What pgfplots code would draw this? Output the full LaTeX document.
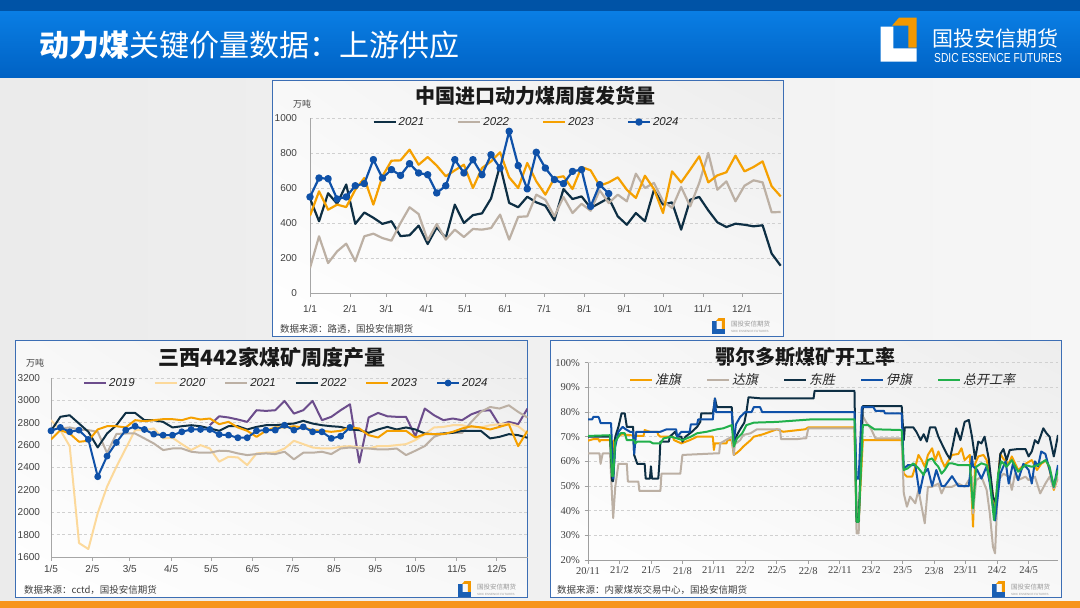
\documentclass[border=0pt]{standalone}
\usepackage{fontspec}
\setmainfont{Liberation Sans}
\newfontfamily\cjk{Noto Sans CJK SC}
\newfontfamily\cjkit[FakeSlant=0.2]{Noto Sans CJK SC}
\newfontfamily\serif{Liberation Serif}
\usepackage{pgfplots}
\pgfplotsset{compat=1.18}
\usepackage{pgfplotstable}
\usetikzlibrary{shadings}

\definecolor{hdrdark}{HTML}{0053A6}
\definecolor{hdrtop}{HTML}{0A7EE4}
\definecolor{hdrbot}{HTML}{0062C4}
\definecolor{bgl}{HTML}{EBEBEB}
\definecolor{bgr}{HTML}{F6F6F6}
\definecolor{stripe}{HTML}{F7941D}
\definecolor{boxblue}{HTML}{3C6EB4}
\definecolor{cnavy}{HTML}{0E2F44}
\definecolor{cbeige}{HTML}{BCB0A4}
\definecolor{corange}{HTML}{F5A000}
\definecolor{cblue}{HTML}{0F51A8}
\definecolor{cpurple}{HTML}{6C4D8C}
\definecolor{cpeach}{HTML}{FCD99B}
\definecolor{cgreen}{HTML}{21B04B}
\definecolor{ticktext}{HTML}{404040}
\definecolor{axisgray}{HTML}{A6A6A6}
\definecolor{gridgray}{HTML}{D0D0D0}
\definecolor{logoblue}{HTML}{1A5FB4}
\definecolor{logoorange}{HTML}{F39800}
\definecolor{panelgray}{HTML}{EDEDED}
\definecolor{panelmid}{HTML}{F8F8F8}

% weekly shipments, day of year
\pgfplotstableread{
day y21 y22 y23 y24
0 540 143 442 549
7 410 324 581 657
14 570 171 476 653
21 510 238 505 537
28 620 282 491 549
35 395 181 590 613
42 460 324 657 625
49 430 339 505 762
56 395 314 667 657
63 410 299 756 705
70 325 400 758 672
77 330 490 819 739
84 385 451 733 686
91 280 301 777 676
98 375 394 728 572
105 315 305 667 613
112 505 362 701 762
119 400 320 733 686
126 445 366 600 762
133 455 362 714 676
140 540 371 752 790
147 730 448 804 714
154 515 305 661 924
161 490 435 600 728
168 550 438 743 595
175 518 562 638 804
182 499 533 562 714
189 415 438 657 648
196 594 549 667 625
203 537 457 594 695
210 552 510 720 705
217 486 470 701 495
224 514 587 613 619
231 543 514 632 568
238 438 562 661 nan
245 390 524 590 nan
252 457 682 543 nan
259 410 600 670 nan
266 590 629 594 nan
273 505 524 457 nan
280 518 486 695 nan
287 362 606 632 nan
294 533 495 705 nan
301 549 629 781 nan
308 472 800 632 nan
315 404 590 672 nan
322 377 638 690 nan
329 396 524 785 nan
336 390 613 695 nan
343 381 644 720 nan
350 387 632 752 nan
357 225 461 610 nan
364 156 463 552 nan
}\shipping

% weekly output, day of year
\pgfplotstableread{
day y19 y20 y21 y22 y23 y24
4 nan 2823 2740 2728 2651 2728
11 nan 2734 2749 2853 2734 2758
18 nan 2591 2758 2867 2704 2719
25 nan 1725 2740 2793 2630 2734
32 nan 1671 2734 2719 2639 2651
39 nan 1992 2719 2579 2740 2318
46 nan 2229 2530 2704 2769 2502
53 nan 2407 2700 2778 2769 2624
60 nan 2570 2704 2888 2758 2734
67 nan 2734 2704 2888 2823 2769
74 nan 2734 2660 2823 2814 2740
81 nan 2749 2615 2823 2823 2698
88 nan 2660 2556 2808 2832 2689
95 nan 2666 2570 2758 2832 2689
102 nan 2609 2570 2769 2823 2719
109 nan 2556 2541 2778 2847 2740
116 nan 2600 2532 2769 2829 2740
123 2778 2570 2532 2749 2838 2740
130 2858 2452 2550 2728 2787 2695
137 2847 2496 2547 2769 2808 2689
144 2829 2490 2526 2769 2758 2666
151 2808 2422 2511 2740 2728 2666
158 2912 2526 2520 2763 2674 2728
165 2906 2532 2526 2778 2728 2734
172 2912 2535 2520 2778 2758 2734
179 2995 2570 2541 2787 2758 2778
186 2882 2639 2473 2793 2769 2734
193 2912 2609 2532 2817 2758 2763
200 2995 2579 2532 2793 2734 2719
207 2823 2570 2541 2778 2728 2719
214 2853 2570 2520 2769 2719 2660
221 2912 2585 2570 2763 2728 2680
228 2965 2591 2579 2740 2758 2758
235 2443 2579 2570 2734 2749 nan
242 2847 2570 2570 2710 2689 nan
249 2888 2591 2562 2740 2668 nan
256 2858 2591 2562 2763 2728 nan
263 2853 2600 2570 2740 2728 nan
270 2853 2609 2511 2758 2728 nan
277 2680 2645 2550 2740 2668 nan
284 2927 2698 2591 2704 2698 nan
291 2867 2758 2674 2698 2698 nan
298 2823 2763 2704 2704 2698 nan
305 2838 2778 2710 2710 2719 nan
312 2823 2778 2710 2728 2749 nan
319 2876 2758 2808 2728 2769 nan
326 2906 2758 2897 2728 2758 nan
333 2912 2778 2941 2660 2740 nan
340 2778 2787 2927 2674 2763 nan
347 2808 2793 2956 2698 2787 nan
354 2787 2769 2897 2689 2591 nan
361 2927 2704 2847 2666 2728 nan
}\sanxi

\pgfplotsset{
  panel/.style={
    scale only axis, anchor=south west,
    axis x line*=bottom, axis y line*=left,
    axis line style={draw=axisgray, line width=0.8pt},
    ymajorgrids, grid style={draw=gridgray, line width=0.6pt, dash pattern=on 3pt off 2.5pt},
    tick align=outside, major tick length=3.5pt,
    xtick style={draw=axisgray, line width=0.8pt},
    ytick style={draw=none},
    tick label style={text=ticktext, font=\fontsize{10}{12}\selectfont},
    unbounded coords=jump,
    legend columns=-1,
    legend cell align=left,
    legend style={draw=none, fill=none, inner sep=0pt, anchor=west, text=black!85,
      font=\itshape\fontsize{11.5}{12}\selectfont},
    legend image code/.code={\draw[mark repeat=2,mark phase=2,##1] plot coordinates {(0pt,0pt) (11pt,0pt) (22pt,0pt)};},
    every axis plot/.append style={line join=round},
  }
}

\newcommand{\logomark}[1]{%
  \fill[logoorange] (11.3,-8) -- (18.3,0) -- (36,0) -- (36,-30) -- (27.6,-30) -- (27.6,-8) -- cycle;
  \fill[#1] (0,-9) -- (12.6,-9) -- (12.6,-30.6) -- (36,-30.6) -- (36,-44) -- (0,-44) -- cycle;}
\newcommand{\minilogo}[2]{%
  \begin{scope}[shift={(#1,-#2)}]
    \begin{scope}[scale=0.36]\logomark{logoblue}\end{scope}
    \node[anchor=west, inner sep=0, font=\cjk\fontsize{6.5}{7}\selectfont, text=gray!80] at (19,-6) {国投安信期货};
    \node[anchor=west, inner sep=0, font=\fontsize{3}{3}\selectfont, text=gray!80] at (19,-13) {SDIC ESSENCE FUTURES};
  \end{scope}}

\begin{document}
\begin{tikzpicture}[x=1pt,y=1pt]
\useasboundingbox (0,0) rectangle (1080,-608);
\shade[left color=bgl, right color=bgr] (0,-76) rectangle (1080,-601);
\fill[stripe] (0,-601) rectangle (1080,-608);
\shade[top color=hdrtop, bottom color=hdrbot] (0,-11) rectangle (1080,-77);
\fill[hdrdark] (0,0) rectangle (1080,-11);
\node[anchor=west, inner sep=0, text=white, font=\cjk\fontsize{30}{30}\selectfont] at (39,-45) {{\bfseries 动力煤}关键价量数据：上游供应};
\begin{scope}[shift={(880.7,-17.7)}]\logomark{white}\end{scope}
\node[anchor=west, inner sep=0, text=white, font=\cjk\fontsize{21}{21}\selectfont] at (932,-39) {国投安信期货};
\node[anchor=west, inner sep=0, text=white, font=\fontsize{13}{13}\selectfont] at (934,-58) {\scalebox{0.79}[1]{SDIC ESSENCE FUTURES}};

\foreach \a/\b/\c/\d in {272/80/783/336, 15/340/527/597, 550/340/1061/597} {
  \shade[upper right=panelgray, lower left=white, upper left=panelmid, lower right=panelmid] (\a,-\b) rectangle (\c,-\d);
  \draw[boxblue, line width=1pt] (\a,-\b) rectangle (\c,-\d);
}

% ---------- chart 1 ----------
\node[font=\cjk\bfseries\fontsize{20}{20}\selectfont, text=black!90] at (535,-96) {中国进口动力煤周度发货量};
\node[font=\cjk\fontsize{9}{9}\selectfont, text=ticktext] at (302,-104) {万吨};
\node[anchor=west, font=\cjk\fontsize{9.5}{10}\selectfont, text=ticktext, inner sep=0] at (280,-329) {数据来源：路透，国投安信期货};
\minilogo{712}{318}
\begin{axis}[panel,
  at={(310pt,-293pt)}, width=472pt, height=175pt,
  xmin=0, xmax=365, ymin=0, ymax=1000,
  xtick={0,31,59,90,120,151,181,212,243,273,304,334},
  xticklabels={1/1,2/1,3/1,4/1,5/1,6/1,7/1,8/1,9/1,10/1,11/1,12/1},
  ytick={0,200,400,600,800,1000},
  yticklabels={0,200,400,600,800,1000},
  xticklabel style={yshift=-5pt},
  yticklabel style={xshift=-6pt},
  legend style={at={(0.132,0.977)}, /tikz/every even column/.append style={column sep=31pt}},
]
\addplot[cnavy, line width=2.2pt] table[x=day, y=y21] {\shipping};
\addlegendentry{2021}
\addplot[cbeige, line width=2.2pt] table[x=day, y=y22] {\shipping};
\addlegendentry{2022}
\addplot[corange, line width=2.2pt] table[x=day, y=y23] {\shipping};
\addlegendentry{2023}
\addplot[cblue, line width=2.2pt, mark=*, mark size=2.6pt, mark options={solid, fill=cblue}] table[x=day, y=y24] {\shipping};
\addlegendentry{2024}
\end{axis}

% ---------- chart 2 ----------
\node[font=\cjk\bfseries\fontsize{21}{21}\selectfont, text=black!90] at (272,-358) {三西442家煤矿周度产量};
\node[font=\cjk\fontsize{9}{9}\selectfont, text=ticktext] at (35,-363) {万吨};
\node[anchor=west, font=\cjk\fontsize{9.5}{10}\selectfont, text=ticktext, inner sep=0] at (24,-590) {数据来源：cctd，国投安信期货};
\minilogo{458}{581}
\begin{axis}[panel,
  at={(51pt,-557pt)}, width=476.5pt, height=179pt,
  xmin=4, xmax=361, ymin=1600, ymax=3200,
  xtick={4,35,63,94,124,155,185,216,247,277,308,338},
  xticklabels={1/5,2/5,3/5,4/5,5/5,6/5,7/5,8/5,9/5,10/5,11/5,12/5},
  ytick={1600,1800,2000,2200,2400,2600,2800,3000,3200},
  yticklabels={1600,1800,2000,2200,2400,2600,2800,3000,3200},
  xticklabel style={yshift=-1pt},
  yticklabel style={xshift=-4pt},
  legend style={at={(0.067,0.972)}, /tikz/every even column/.append style={column sep=17pt}},
]
\addplot[cpurple, line width=2pt] table[x=day, y=y19] {\sanxi};
\addlegendentry{2019}
\addplot[cpeach, line width=2pt] table[x=day, y=y20] {\sanxi};
\addlegendentry{2020}
\addplot[cbeige, line width=2pt] table[x=day, y=y21] {\sanxi};
\addlegendentry{2021}
\addplot[cnavy, line width=2pt] table[x=day, y=y22] {\sanxi};
\addlegendentry{2022}
\addplot[corange, line width=2pt] table[x=day, y=y23] {\sanxi};
\addlegendentry{2023}
\addplot[cblue, line width=2pt, mark=*, mark size=2.4pt, mark options={solid, fill=cblue}] table[x=day, y=y24] {\sanxi};
\addlegendentry{2024}
\end{axis}

% ---------- chart 3 ----------
\node[font=\cjk\bfseries\fontsize{20}{20}\selectfont, text=black!90] at (805,-357) {鄂尔多斯煤矿开工率};
\node[anchor=west, font=\cjk\fontsize{9.5}{10}\selectfont, text=ticktext, inner sep=0] at (557,-590) {数据来源：内蒙煤炭交易中心，国投安信期货};
\minilogo{992}{581}
\begin{axis}[panel,
  at={(588pt,-560pt)}, width=470pt, height=197.3pt,
  xmin=0, xmax=44.8, ymin=20, ymax=100,
  axis line style={draw=gray!75, line width=0.8pt},
  xtick style={draw=gray!75, line width=0.8pt},
  ytick style={draw=gray!75, line width=0.8pt},
  tick label style={font=\serif\fontsize{10.5}{12}\selectfont},
  xtick={0,3,...,42},
  xticklabels={20/11,21/2,21/5,21/8,21/11,22/2,22/5,22/8,22/11,23/2,23/5,23/8,23/11,24/2,24/5},
  ytick={20,30,...,100},
  yticklabels={20\%,30\%,40\%,50\%,60\%,70\%,80\%,90\%,100\%},
  yticklabel style={xshift=-1pt},
  legend style={at={(0.087,0.912)}, font=\cjkit\fontsize{13}{13}\selectfont, /tikz/every even column/.append style={column sep=23pt}},
]
\addplot[corange, line width=2pt] coordinates {
(0,68.4)(0.5,69)(1.0,69)(1.1,68)(1.2,68.6)(2.1,68.6)(2.3,60)(2.5,68.6)(2.9,70)(3.2,71)(4.7,70.3)(5.3,70.3)(5.4,72.7)(5.9,72)(6.6,72)(6.7,70.7)(6.9,70)(8.1,70)(8.2,68.6)(8.9,67.3)(9.7,68.6)(10.4,70)(11.9,70)(12.0,64.6)(12.1,67.3)(13.2,67.3)(13.3,68.6)(13.7,68.6)(13.9,62.6)(14.2,63.5)(14.5,64.6)(14.8,66)(15.5,68.6)(15.8,70)(16.7,71)(18.0,73)(18.6,72)(20.7,73)(21.0,73.8)(25.4,73.8)(25.6,35.5)(25.8,35.5)(26.2,68.6)(29.9,68.6)(30.1,55)(30.4,53.8)(30.9,53.8)(31.2,57.8)(31.5,62.6)(31.8,60.5)(32.1,57.8)(32.4,62.6)(32.8,65.3)(33.1,60.5)(33.4,64)(33.7,60.5)(34.0,57.8)(34.4,60.5)(34.7,62.6)(35.3,63)(35.6,65.3)(35.9,60.5)(36.4,62.6)(36.7,33.5)(36.9,59)(37.2,62)(37.7,62.6)(38.0,60.5)(38.3,55)(38.8,40.3)(39.3,63)(39.6,61)(40.1,59)(40.4,62)(41.0,56.5)(41.7,59)(42.3,60.5)(42.8,56.5)(43.2,59)(43.7,60.5)(44.0,56.5)(44.4,48.4)(44.7,52.4)(44.8,52.4)};
\addlegendentry{准旗}
\addplot[cbeige, line width=2pt] coordinates {
(0,63.2)(1.1,63.2)(1.2,59)(1.4,63.2)(2.1,63.2)(2.3,45)(2.4,37)(2.6,49.7)(2.9,59)(3.7,59)(3.8,51.8)(4.8,51.8)(4.9,48)(6.9,48)(7.0,55)(8.8,55)(9.0,62.6)(12.0,63.2)(12.5,63.2)(12.6,67.3)(13.7,70)(13.9,62.6)(14.0,67)(14.5,68.6)(14.8,70.7)(15.5,71.4)(16.1,73)(18.3,73)(18.4,69)(19.9,69)(20.5,69.3)(20.8,69.3)(21.0,73.4)(25.4,73.4)(25.6,30.8)(25.8,30.8)(26.1,79)(26.5,76)(27.0,73)(27.4,69.3)(29.9,69.3)(30.1,47)(30.4,41.6)(30.7,45.7)(31.2,43)(31.5,48.4)(31.8,41.6)(32.1,34.9)(32.4,49.7)(32.8,49.7)(33.4,51)(33.7,47)(34.0,49.7)(34.7,49.7)(35.3,51)(35.9,49.7)(36.3,52.4)(36.6,53.8)(36.7,38.9)(37.0,52.4)(37.5,53.8)(38.0,48.4)(38.3,38.9)(38.6,25.4)(38.8,22.7)(39.1,52.4)(39.6,55)(40.1,53.8)(40.4,48.4)(40.7,55)(41.0,52.4)(41.7,53.8)(42.0,52.4)(42.6,53.8)(43.1,47)(43.6,51)(44.0,53.8)(44.4,49)(44.7,52.4)(44.8,53.8)};
\addlegendentry{达旗}
\addplot[cnavy, line width=2pt] coordinates {
(0,70)(2.1,70)(2.3,52)(2.4,52)(2.6,70)(2.9,74)(3.2,79.5)(3.5,79.5)(3.7,74)(4.3,74)(4.4,62.6)(4.7,59)(5.4,59)(5.5,53)(5.9,53)(6.0,58)(6.1,53)(6.7,53)(6.8,59)(6.9,68)(7.7,68)(7.8,70)(8.3,72)(8.5,70)(8.9,70)(9.0,68)(9.3,70)(9.9,72)(10.4,74)(10.7,76)(10.8,79.5)(11.9,79.5)(12.0,82)(12.1,85.5)(12.2,83.5)(12.3,82)(13.7,82)(13.9,67.3)(14.2,70.7)(14.5,73)(14.9,75.7)(15.1,80)(15.3,86)(16.6,85.5)(21.5,85.5)(21.6,88.6)(25.4,88.6)(25.6,35.5)(25.8,35.5)(26.2,82.4)(29.9,82.4)(30.1,68.6)(30.2,73.8)(31.0,73.8)(31.3,72)(31.7,68.6)(32.0,71)(32.3,68)(32.6,73.8)(33.1,73.8)(33.4,70)(33.7,67.3)(34.2,63)(34.5,61)(34.8,67)(35.1,73.4)(35.5,68.6)(35.9,76)(36.3,76.8)(36.6,70)(36.9,61)(37.2,68)(37.5,67.3)(37.8,70)(38.2,61)(38.6,45.7)(38.9,43)(39.3,63)(39.6,65)(39.9,60.5)(40.2,64.6)(41.0,65)(41.7,65)(42.0,62)(42.3,64)(42.6,68.6)(42.9,67.3)(43.4,73.4)(43.7,71.4)(44.0,70)(44.4,62)(44.5,64)(44.8,70.7)};
\addlegendentry{东胜}
\addplot[cblue, line width=2pt] coordinates {
(0,77)(0.4,77)(0.5,78)(1.0,78)(1.1,77)(1.2,75.5)(2.2,75.5)(2.4,53)(2.6,66)(2.9,72)(3.3,74)(3.6,73)(4.0,72)(4.3,72)(4.4,63)(4.6,72)(6.9,72)(7.2,72.5)(7.5,73)(8.4,73)(8.5,70)(8.9,72)(9.7,72)(9.8,75)(10.4,75)(10.5,77)(11.9,77)(12.0,82)(12.1,85.5)(12.2,80)(13.7,80)(13.9,68)(14.1,75)(14.5,78)(15.0,80)(15.6,80)(15.8,82)(16.4,82)(16.6,80)(25.4,80)(25.6,53)(25.8,53)(26.1,82)(27.2,82)(27.4,80.5)(28.2,80.5)(28.3,79.5)(29.9,79.5)(30.1,57)(30.5,58.5)(31.2,58.5)(31.6,47)(32.0,55)(32.4,57)(32.8,50)(33.2,56.5)(33.7,50)(34.0,50)(34.7,54)(35.3,50)(36.3,50)(36.6,62)(36.7,58)(37.1,56.5)(37.5,53)(38.0,58)(38.3,51)(38.8,36)(39.3,55)(39.8,60)(40.1,51)(40.5,59)(41.0,52.4)(41.5,59)(42.0,56.5)(42.3,51)(42.6,60)(42.9,58)(43.2,64)(43.6,63)(44.0,56.5)(44.4,49.7)(44.8,58.5)};
\addlegendentry{伊旗}
\addplot[cgreen, line width=2pt] coordinates {
(0,70.3)(2.1,70.6)(2.3,54)(2.4,54)(2.6,68)(3.1,71.4)(3.5,71.4)(3.7,68.6)(4.4,68.6)(4.5,67.3)(4.7,68)(5.9,68)(6.2,67.3)(6.9,67.3)(7.2,69.3)(7.9,70)(8.5,69.3)(9.0,68.6)(9.8,70)(10.4,71.4)(11.3,72)(12.3,73)(12.9,73.4)(13.7,74.7)(13.9,66)(14.2,69.3)(14.7,71.4)(15.1,74.7)(15.8,75.7)(18.0,76)(21.2,77)(25.4,77)(25.6,35.5)(25.8,35.5)(26.2,74.7)(26.7,74.7)(27.3,73)(29.9,72.7)(30.1,56.5)(30.5,57.2)(31.0,59.2)(31.5,57.2)(32.0,54.5)(32.4,60.5)(32.8,61.2)(33.1,59.2)(33.4,57.8)(33.7,55)(34.0,56.5)(34.4,59.2)(34.7,59.2)(35.3,58.5)(35.9,58.5)(36.4,58.5)(36.7,41)(37.0,57.8)(37.5,59.2)(38.0,58.5)(38.3,52.4)(38.7,36.2)(39.1,55)(39.4,60)(39.9,57.8)(40.4,60.5)(41.0,55.8)(41.7,58.5)(42.3,57.8)(42.9,58.5)(43.6,60.5)(44.0,57.8)(44.4,49.7)(44.8,56.5)};
\addlegendentry{总开工率}
\end{axis}
\end{tikzpicture}
\end{document}
